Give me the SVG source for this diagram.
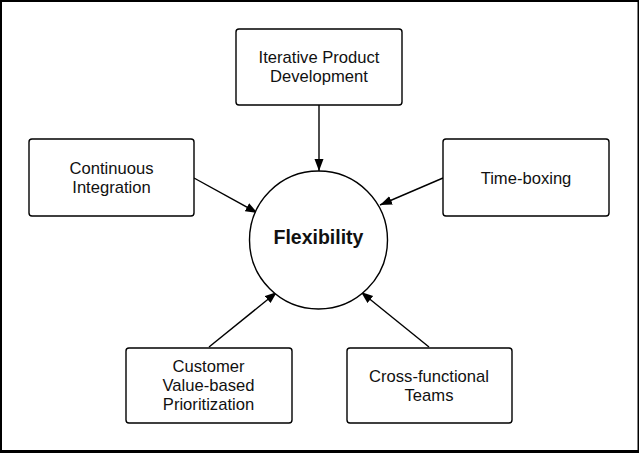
<svg xmlns="http://www.w3.org/2000/svg" width="639" height="453" viewBox="0 0 639 453">
<style>
.box{fill:#fff;stroke:#000;stroke-width:1.4}
.t{font-family:"Liberation Sans",Arial,sans-serif;font-size:16.6px;fill:#111;text-anchor:middle}
.c{stroke:#000;stroke-width:1.4;fill:none;marker-end:url(#ah)}
</style>
<defs>
<marker id="ah" markerUnits="userSpaceOnUse" markerWidth="13" markerHeight="10" refX="12" refY="4.5" orient="auto">
<path d="M0,0 L12,4.5 L0,9 z" fill="#000"/>
</marker>
</defs>
<rect x="0" y="0" width="639" height="453" fill="#000"/>
<rect x="2" y="2" width="635.5" height="448" fill="#fff"/>
<g id="connectors">
<line class="c" x1="319" y1="105" x2="319" y2="171"/>
<line class="c" x1="194" y1="178" x2="257.5" y2="213"/>
<line class="c" x1="443" y1="178" x2="380" y2="205"/>
<line class="c" x1="209" y1="347" x2="277" y2="292"/>
<line class="c" x1="429" y1="347" x2="361" y2="292"/>
</g>
<g id="flexibility">
<circle cx="318.5" cy="240" r="69" class="box"/>
<text x="318.5" y="244" class="t" style="font-size:19.5px;font-weight:bold">Flexibility</text>
</g>
<g id="iterative">
<rect x="236" y="29" width="166" height="76" rx="3" class="box"/>
<text x="319" y="63.3" class="t">Iterative Product</text>
<text x="319" y="82.3" class="t">Development</text>
</g>
<g id="continuous">
<rect x="29" y="139" width="165" height="77" rx="3" class="box"/>
<text x="111.5" y="174" class="t">Continuous</text>
<text x="111.5" y="193" class="t">Integration</text>
</g>
<g id="timeboxing">
<rect x="443" y="139" width="166" height="77" rx="3" class="box"/>
<text x="526" y="184" class="t">Time-boxing</text>
</g>
<g id="customer">
<rect x="126" y="348" width="166" height="75" rx="3" class="box"/>
<text x="208.5" y="372" class="t">Customer</text>
<text x="208.5" y="391" class="t">Value-based</text>
<text x="208.5" y="409.5" class="t">Prioritization</text>
</g>
<g id="crossfunctional">
<rect x="347" y="348" width="165" height="75" rx="3" class="box"/>
<text x="429" y="382" class="t">Cross-functional</text>
<text x="429" y="401" class="t">Teams</text>
</g>
</svg>
